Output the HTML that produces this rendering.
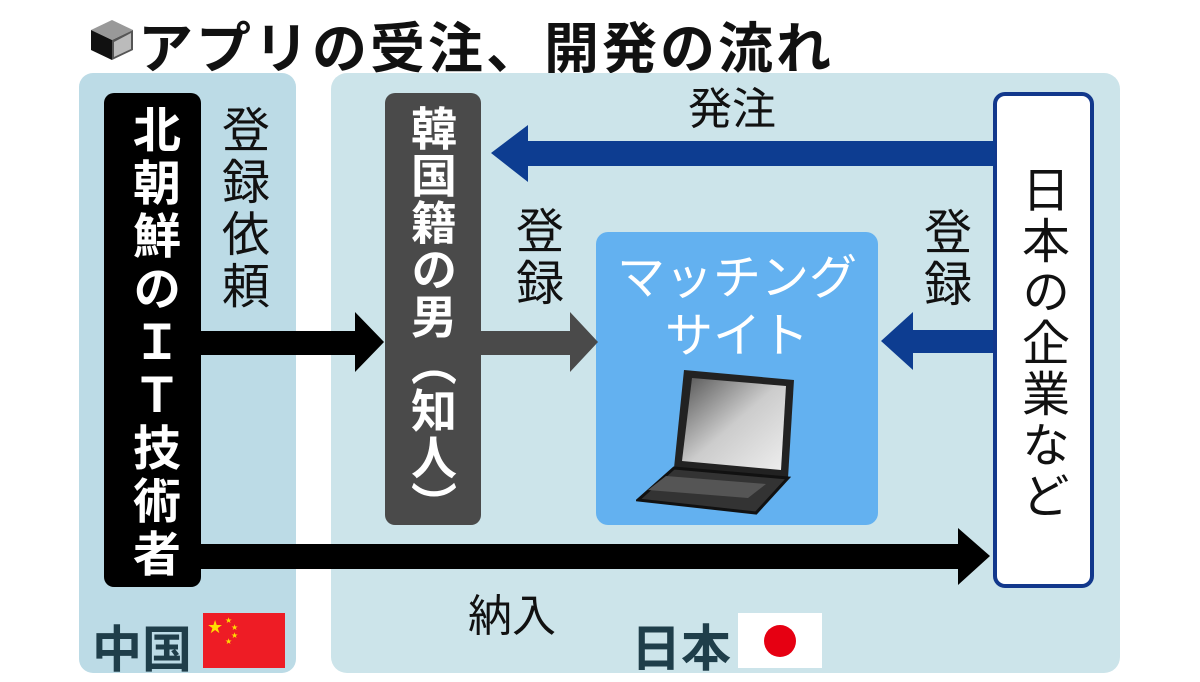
<!DOCTYPE html>
<html><head><meta charset="utf-8"><style>
body{margin:0;width:1200px;height:675px;background:#fff;position:relative;overflow:hidden;font-family:"Liberation Sans","Noto Sans CJK JP",sans-serif;}
.a{position:absolute}
.v{position:absolute;writing-mode:vertical-rl;font-weight:bold;line-height:1;}
</style></head><body>
<!-- title -->
<svg class="a" style="left:88px;top:18px" width="48" height="44" viewBox="0 0 48 44">
<polygon points="24,2 45,12 24,22 3,12" fill="#999"/>
<polygon points="3,12 24,22 24,42 3,32" fill="#111"/>
<polygon points="45,12 24,22 24,42 45,32" fill="#555"/>
<polygon points="26,24 43,15 43,31 26,39" fill="#bbb"/>
</svg>
<div class="a" style="left:138px;top:4px;font-size:55px;font-weight:bold;letter-spacing:3px;color:#111">アプリの受注、開発の流れ</div>
<!-- panels -->
<div class="a" style="left:79px;top:73px;width:217px;height:600px;background:#bcdbe6;border-radius:14px"></div>
<div class="a" style="left:331px;top:73px;width:789px;height:600px;background:#cce4ea;border-radius:16px"></div>
<!-- boxes -->
<div class="a" style="left:104px;top:93px;width:97px;height:494px;background:#000;border-radius:10px"></div>
<div class="v" style="left:127px;top:105px;font-size:48px;letter-spacing:5px;color:#fff">北朝鮮のＩＴ技術者</div>
<div class="v" style="left:216px;top:105px;font-size:48px;letter-spacing:4px;color:#111;font-weight:normal">登録依頼</div>
<div class="a" style="left:385px;top:93px;width:96px;height:432px;background:#4a4a4a;border-radius:10px"></div>
<div class="v" style="left:408px;top:105px;font-size:46px;letter-spacing:1px;color:#fff">韓国籍の男（知人）</div>
<div class="v" style="left:510px;top:206px;font-size:48px;letter-spacing:4px;color:#111;font-weight:normal">登録</div>
<div class="a" style="left:596px;top:232px;width:282px;height:293px;background:#63b1f0;border-radius:12px"></div>
<div class="a" style="left:596px;top:250px;width:282px;text-align:center;font-size:48px;line-height:58px;color:#fff">マッチング<br>サイト</div>
<svg class="a" style="left:636px;top:368px" width="165" height="148" viewBox="0 0 165 148">
<defs><linearGradient id="g" x1="0" y1="0" x2="1" y2="1"><stop offset="0" stop-color="#555"/><stop offset=".5" stop-color="#ccc"/><stop offset="1" stop-color="#eee"/></linearGradient></defs>
<polygon points="48,2 158,12 152,110 38,100" fill="#222"/>
<polygon points="56,10 150,18 145,102 46,93" fill="url(#g)"/>
<polygon points="38,100 152,110 120,145 2,132" fill="#333" stroke="#111" stroke-width="3"/>
<polygon points="30,108 130,116 112,130 12,122" fill="#555"/>
</svg>
<div class="v" style="left:918px;top:207px;font-size:48px;letter-spacing:4px;color:#111;font-weight:normal">登録</div>
<div class="a" style="left:993px;top:92px;width:93px;height:488px;background:#fff;border:4px solid #12388c;border-radius:12px"></div>
<div class="v" style="left:1016px;top:165px;font-size:48px;letter-spacing:3px;color:#111;font-weight:normal">日本の企業など</div>
<!-- arrows -->
<svg class="a" style="left:0;top:0" width="1200" height="675">
<polygon points="995,141 528,141 528,125 491,153 528,182 528,166 995,166" fill="#0d3d91"/>
<polygon points="201,331 355,331 355,312 384,342 355,372 355,355 201,355" fill="#000"/>
<polygon points="481,331 570,331 570,312 598,342 570,372 570,355 481,355" fill="#4a4a4a"/>
<polygon points="993,330 913,330 913,312 881,341 913,370 913,353 993,353" fill="#0d3d91"/>
<polygon points="201,544 958,544 958,528 990,556 958,585 958,569 201,569" fill="#000"/>
</svg>
<div class="a" style="left:688px;top:88px;font-size:44px;line-height:1;color:#111">発注</div>
<div class="a" style="left:468px;top:580px;font-size:44px;color:#111">納入</div>
<div class="a" style="left:92px;top:610px;font-size:50px;font-weight:bold;color:#1f3e4a">中国</div>
<svg class="a" style="left:203px;top:613px" width="82" height="55"><rect width="82" height="55" fill="#ee1c25"/>
<text x="4" y="20" font-size="18" fill="#ffde00" font-family="DejaVu Sans">★</text>
<text x="22" y="10" font-size="8" fill="#ffde00" font-family="DejaVu Sans">★</text>
<text x="28" y="17" font-size="8" fill="#ffde00" font-family="DejaVu Sans">★</text>
<text x="28" y="25" font-size="8" fill="#ffde00" font-family="DejaVu Sans">★</text>
<text x="22" y="31" font-size="8" fill="#ffde00" font-family="DejaVu Sans">★</text></svg>
<div class="a" style="left:631px;top:609px;font-size:50px;font-weight:bold;color:#1f3e4a">日本</div>
<svg class="a" style="left:738px;top:613px" width="84" height="55"><rect width="84" height="55" fill="#fff"/><circle cx="42" cy="28" r="16" fill="#e60012"/></svg>
</body></html>
